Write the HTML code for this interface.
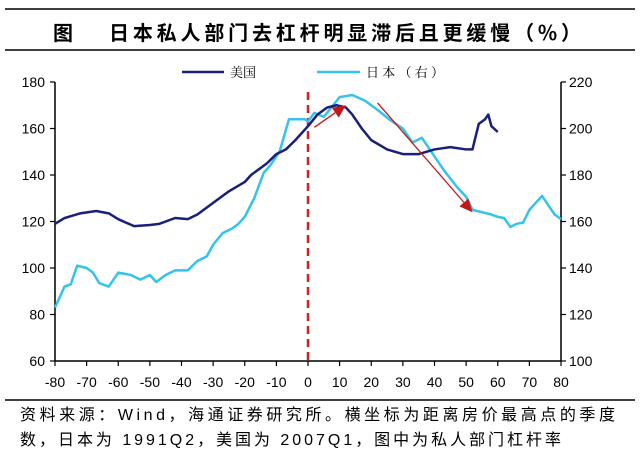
<!DOCTYPE html>
<html><head><meta charset="utf-8">
<style>
body{margin:0;background:#fff;}
svg{display:block;font-family:"Liberation Sans","Noto Sans CJK SC",sans-serif;}
</style></head>
<body>
<svg id="c" width="640" height="457" viewBox="0 0 640 457">
<line x1="5" y1="9" x2="635" y2="9" stroke="#000" stroke-width="1.5"/>
<text x="53" y="40" font-size="20" font-weight="bold" font-family="'Noto Sans CJK SC',sans-serif" textLength="528" lengthAdjust="spacing">图　 日本私人部门去杠杆明显滞后且更缓慢（%）</text>
<line x1="5" y1="50" x2="635" y2="50" stroke="#000" stroke-width="1.5"/>
<g>
<line x1="182" y1="72" x2="224" y2="72" stroke="#1a1f7a" stroke-width="2.5"/>
<text x="230" y="77" font-size="13" font-family="'Noto Serif CJK SC',serif">美国</text>
<line x1="317" y1="72" x2="360" y2="72" stroke="#33c3ec" stroke-width="2.5"/>
<text x="366" y="77" font-size="13" font-family="'Noto Serif CJK SC',serif" textLength="78" lengthAdjust="spacing">日本（右）</text>
</g>
<g id="axes"></g>
<g id="marks"></g>
<line x1="5" y1="400" x2="635" y2="400" stroke="#000" stroke-width="1.5"/>
<text x="20" y="420" font-size="16" textLength="595" lengthAdjust="spacing">资料来源：Wind，海通证券研究所。横坐标为距离房价最高点的季度</text>
<text x="20" y="445" font-size="16" textLength="541" lengthAdjust="spacing">数，日本为 1991Q2，美国为 2007Q1，图中为私人部门杠杆率</text>
</svg>
<script>
const xTicks=[-80,-70,-60,-50,-40,-30,-20,-10,0,10,20,30,40,50,60,70,80];
const leftTicks=[60,80,100,120,140,160,180];
const rightTicks=[100,120,140,160,180,200,220];
const usX=[-80,-77,-72,-67,-63,-60,-55,-50,-47,-42,-38,-35,-30,-25,-20,-18,-13,-10,-7,-4,0,3,6,9,12,14,17,20,25,30,35,40,45,50,52,54,56,57,58,60];
const usY=[119,121.5,123.5,124.5,123.5,121,118,118.5,119,121.5,121,123,128,133,137,140,145,149,151,155,161,166,169,170,169,166,160,155,151,149,149,151,152,151,151,162,164,166,161,158.5];
const jpX=[-80,-77,-75,-73,-70,-68,-66,-63,-60,-56,-53,-50,-48,-45,-42,-38,-35,-32,-30,-27,-24,-22,-20,-17,-14,-12,-9,-6,-3,-1,0,2,5,10,14,18,22,26,30,33,36,40,43,47,50,52,55,58,60,62,64,66,68,70,74,78,80];
const jpY=[123,132,133,141,140,138,133.5,132,138,137,135,137,134,137,139,139,143,145,150,155,157,159,162,170,181,184,190,204,204,204,203,206.7,205,213.5,214.4,212,208,203.6,200,194,196,188,182,175,170.6,165,164,163,162,161.5,157.7,159,159.5,165,171,163,161];
const arrowsX=[[2,12],[22,52]];
const arrowsY=[[200.5,210],[211,164]];
const NS="http://www.w3.org/2000/svg";
const X0=55,X1=561,YT=82,YB=361;
const xs=v=>X0+(v+80)/160*(X1-X0);
const yl=v=>YB-(v-60)/120*(YB-YT);
const yr=v=>YB-(v-100)/120*(YB-YT);
function mk(t,a,p){const e=document.createElementNS(NS,t);for(const k in a)e.setAttribute(k,a[k]);p.appendChild(e);return e;}
const ax=document.getElementById('axes'),mg=document.getElementById('marks');
let e=mk('line',{x1:X0,y1:YT,x2:X0,y2:YB,stroke:'#000','stroke-width':1.5},ax);


e=mk('line',{x1:X1,y1:YT,x2:X1,y2:YB,stroke:'#000','stroke-width':1.5},ax);


e=mk('line',{x1:X0,y1:YB,x2:X1,y2:YB,stroke:'#000','stroke-width':1.5},ax);


xTicks.forEach(v=>{const x=xs(v);
 let t=mk('line',{x1:x,y1:YB,x2:x,y2:YB+5,stroke:'#000','stroke-width':1.2},ax);
 
 
 let l=mk('text',{x:x,y:387,'text-anchor':'middle','font-size':14},ax);l.textContent=v;
 
 });
leftTicks.forEach(v=>{const y=yl(v);
 let t=mk('line',{x1:X0-5,y1:y,x2:X0,y2:y,stroke:'#000','stroke-width':1.2},ax);
 
 
 let l=mk('text',{x:X0-10,y:y+5,'text-anchor':'end','font-size':14},ax);l.textContent=v;
 
 });
rightTicks.forEach(v=>{const y=yr(v);
 let t=mk('line',{x1:X1,y1:y,x2:X1+5,y2:y,stroke:'#000','stroke-width':1.2},ax);
 
 
 let l=mk('text',{x:X1+8,y:y+5,'text-anchor':'start','font-size':14},ax);l.textContent=v;
 
 });
e=mk('line',{x1:xs(0),y1:YT+10,x2:xs(0),y2:YB,stroke:'#d42020','stroke-width':2.5,'stroke-dasharray':'8,5'},mg);


e=mk('polyline',{points:jpX.map((v,i)=>xs(v)+','+yr(jpY[i])).join(' '),fill:'none',stroke:'#33c3ec','stroke-width':2.5,'stroke-linejoin':'round'},mg);


e=mk('polyline',{points:usX.map((v,i)=>xs(v)+','+yl(usY[i])).join(' '),fill:'none',stroke:'#1a1f7a','stroke-width':2.5,'stroke-linejoin':'round'},mg);


arrowsX.forEach((ar,i)=>{
 const x1=xs(ar[0]),y1=yr(arrowsY[i][0]),x2=xs(ar[1]),y2=yr(arrowsY[i][1]);
 const a=Math.atan2(y2-y1,x2-x1),L=13,W=6;
 const bx=x2-L*Math.cos(a),by=y2-L*Math.sin(a);
 let l=mk('line',{x1:x1,y1:y1,x2:bx,y2:by,stroke:'#c01818','stroke-width':1.3},mg);
 
 
 const p=[[x2,y2],[bx-W*Math.sin(a),by+W*Math.cos(a)],[bx+W*Math.sin(a),by-W*Math.cos(a)]];
 let h=mk('polygon',{points:p.map(q=>q.join(',')).join(' '),fill:'#c01818'},mg);
 
 
});
</script>
</body></html>
